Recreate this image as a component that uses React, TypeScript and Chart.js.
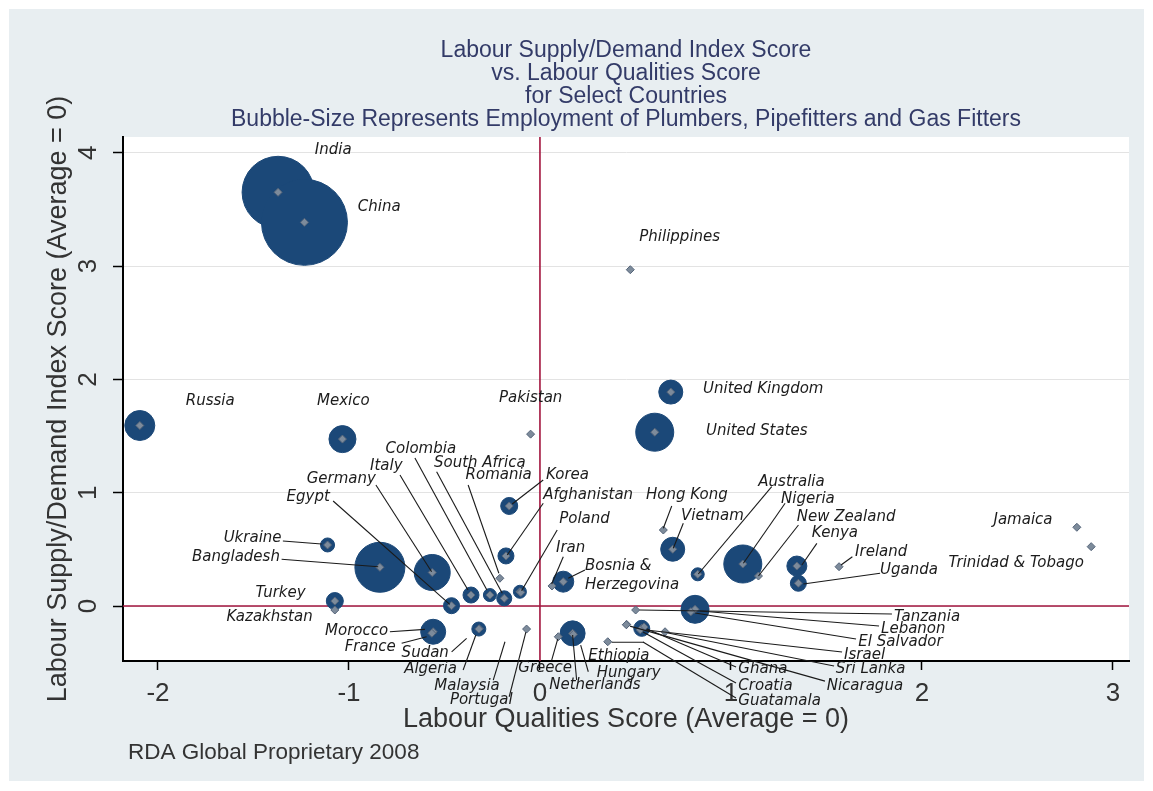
import React, { useEffect, useRef } from 'react';
import { Chart, registerables } from 'chart.js';

Chart.register(...registerables);

// ---------- data ----------
const countries = [
  'India', 'China', 'Russia', 'Mexico', 'Pakistan', 'Philippines', 'United Kingdom', 'United States',
  'Ukraine', 'Bangladesh', 'Germany', 'Egypt', 'Italy', 'Colombia', 'South Africa', 'Romania',
  'Korea', 'Afghanistan', 'Poland', 'Iran', 'Bosnia & Herzegovina', 'Hong Kong', 'Vietnam', 'Australia',
  'Nigeria', 'New Zealand', 'Kenya', 'Uganda', 'Ireland', 'Jamaica', 'Trinidad & Tobago', 'Turkey',
  'Kazakhstan', 'Morocco', 'France', 'Sudan', 'Algeria', 'Malaysia', 'Portugal', 'Greece',
  'Netherlands', 'Hungary', 'Ethiopia', 'Tanzania', 'Lebanon', 'El Salvador', 'Israel', 'Sri Lanka',
  'Nicaragua', 'Ghana', 'Croatia', 'Guatamala',
];

// Labour Qualities Score (x)
const qualityScores = [
  -1.371, -1.233, -2.095, -1.034, -0.049, 0.473, 0.685, 0.601,
  -1.112, -0.838, -0.564, -0.463, -0.361, -0.262, -0.187, -0.210,
  -0.161, -0.178, -0.105, 0.063, 0.122, 0.646, 0.695, 0.826,
  1.062, 1.144, 1.345, 1.353, 1.566, 2.811, 2.886, -1.074,
  -1.074, -0.559, -0.566, -0.318, -0.320, -0.100, -0.070, 0.096,
  0.171, 0.175, 0.355, 0.501, 0.812, 0.790, 0.533, 0.655,
  0.454, 0.545, 0.525, 0.452,
];

// Labour Supply/Demand Index Score (y)
const supplyDemandScores = [
  3.651, 3.386, 1.593, 1.473, 1.517, 2.968, 1.888, 1.534,
  0.539, 0.342, 0.296, 0.003, 0.097, 0.097, 0.068, 0.245,
  0.883, 0.442, 0.126, 0.177, 0.215, 0.671, 0.501, 0.280,
  0.371, 0.265, 0.353, 0.201, 0.347, 0.695, 0.524, 0.044,
  -0.035, -0.227, -0.240, -0.200, -0.203, 0.120, -0.203, -0.271,
  -0.241, -0.250, -0.315, -0.035, -0.029, -0.050, -0.197, -0.227,
  -0.162, -0.185, -0.210, -0.165,
];

// Bubble size (employment of plumbers, pipefitters and gas fitters), as bubble radius
const bubbleSizes = [
  36, 43, 15, 13.5, 0, 0, 12, 19,
  7, 25, 18, 8, 8, 6.5, 7.5, 0,
  8.5, 8, 6.5, 0, 10.5, 0, 12, 6.5,
  19, 0, 10, 8, 0, 0, 0, 8.5,
  0, 12.5, 0, 0, 7, 0, 0, 0,
  12.5, 0, 0, 0, 14, 0, 8, 0,
  0, 0, 0, 0,
];

const xTickValues = [-2, -1, 0, 1, 2, 3];
const yTickValues = [0, 1, 2, 3, 4];

const titleLines = [
  'Labour Supply/Demand Index Score',
  'vs. Labour Qualities Score',
  'for Select Countries',
  'Bubble-Size Represents Employment of Plumbers, Pipefitters and Gas Fitters',
];
const xAxisTitle = 'Labour Qualities Score (Average = 0)';
const yAxisTitle = 'Labour Supply/Demand Index Score (Average = 0)';
const footnote = 'RDA Global Proprietary 2008';

// ---------- label layout (pixel offsets from each marker) ----------
type Leader = [number, number, number, number] | null;
type Layout = [number, number, 'l' | 'r', Leader, boolean?];
const labelLayout: Layout[] = [
  [36.7, -41.7, 'l', null],
  [53.3, -15.7, 'l', null],
  [46, -24.7, 'l', null],
  [-25.4, -38.3, 'l', null],
  [-31.7, -36.3, 'l', null],
  [9, -33, 'l', null],
  [32.3, -3.3, 'l', null],
  [51.3, -1.3, 'l', null],
  [-46, -6.7, 'r', [-44.7, -4, -6, -1]],
  [-100, -10.6, 'r', [-98.3, -8, -1.7, -0.6]],
  [-56.3, -93.2, 'r', [-56.3, -87.5, -0.6, -0.8]],
  [-121.7, -108.4, 'r', [-118.4, -104.7, -1.7, -1.4]],
  [-101, -129.3, 'l', [-71, -120, -3, -5]],
  [-104.3, -145.7, 'l', [-75, -137, -3, -5]],
  [-70.3, -135.6, 'l', [-67.6, -126.6, -2, -5]],
  [-34.3, -103.3, 'l', [-31.7, -93.3, -1, -5]],
  [36.7, -31, 'l', [34, -26, 3, -2]],
  [37.3, -61, 'l', [37.3, -52.7, 1.3, -1]],
  [39.3, -72.4, 'l', [37.3, -61.7, 1.7, -1]],
  [4, -38.3, 'l', [11.3, -29.3, -0.3, -2]],
  [21.7, -16, 'l', [21.7, -11.7, 5, -3.4], true],
  [-17.3, -35, 'l', [8.4, -24, 0, -1.7]],
  [8.3, -33.6, 'l', [10.6, -26, 0.6, -1]],
  [60.6, -92.6, 'l', [74, -87.6, 0.6, -0.3]],
  [38.3, -65, 'l', [42.3, -60.7, 0.6, -0.7]],
  [38.4, -59.3, 'l', [40, -51, 0, 0]],
  [15, -32.7, 'l', [20, -22.7, 5, -1]],
  [81.7, -13.3, 'l', [81.7, -10, 5, 0.7]],
  [16, -14.4, 'l', [13.3, -10, 2, -1.7]],
  [-83.4, -7.3, 'l', null],
  [-142.7, 16.6, 'l', null],
  [-79.3, -7.7, 'l', null],
  [-108.3, 6.7, 'l', null],
  [-45, -1, 'r', [-43.3, 0, -8.3, -2.4]],
  [-36.2, 13.5, 'r', [-30.2, 10.1, -5.2, 3.5]],
  [-77.6, 24.1, 'l', [-27.6, 23.1, -12.6, 9.7]],
  [-74.7, 40.3, 'l', [-15.7, 41, -3, 6]],
  [-86.6, 93.3, 'l', [-27.6, 87.6, -15.9, 49.3]],
  [-76.7, 71, 'l', [-17.4, 67.7, -0.7, 3]],
  [-40, 31.6, 'l', [-6.6, 23.3, -0.6, 2.3]],
  [-23.4, 51.7, 'l', [4, 46.7, 0, 1.7]],
  [23.3, 39, 'l', [14.9, 37.4, 7.3, 10.7]],
  [-19.4, 14.3, 'l', [4, 0.5, 36, 0.5]],
  [258.3, 6.7, 'l', [256.3, 4, 4, 0]],
  [186, 19.7, 'l', [184, 16.7, 5, 1.7]],
  [167.5, 30, 'l', [165.2, 27.3, 4.2, 1.3]],
  [202.3, 26.7, 'l', [200.3, 23.7, 4.3, 1.7]],
  [170.7, 37.6, 'l', [169, 34.3, 3, 1.3]],
  [200, 61.4, 'l', [198.3, 56.7, 3.3, 1.7]],
  [94.3, 42.4, 'l', [92, 40.1, 3, 2.1]],
  [98.1, 55.9, 'l', [95.8, 53.2, 2.8, 2.2]],
  [112, 76, 'l', [109.7, 73.3, 16.7, 17.3]],
];

const SANS = "'Liberation Sans', Arial, sans-serif";
const LABEL_FONT = "italic 15px 'DejaVu Sans', Verdana, sans-serif";

const backgroundPlugin = {
  id: 'stataBackground',
  beforeDraw(chart: any) {
    const { ctx, chartArea: a, width, height } = chart;
    ctx.save();
    ctx.fillStyle = '#ffffff';
    ctx.fillRect(0, 0, width, height);
    ctx.fillStyle = '#e8eef1';
    ctx.fillRect(9, 9, width - 18, height - 19);
    ctx.fillStyle = '#ffffff';
    ctx.fillRect(a.left, a.top, a.right - a.left, a.bottom - a.top);
    ctx.restore();
  },
};

const refLinesPlugin = {
  id: 'refLines',
  beforeDatasetsDraw(chart: any) {
    const { ctx, chartArea: a, scales } = chart;
    const x0 = scales.x.getPixelForValue(0);
    const y0 = scales.y.getPixelForValue(0);
    ctx.save();
    ctx.strokeStyle = '#a3163f';
    ctx.lineWidth = 1.6;
    ctx.beginPath();
    ctx.moveTo(x0, a.top);
    ctx.lineTo(x0, a.bottom);
    ctx.moveTo(a.left, y0);
    ctx.lineTo(a.right, y0);
    ctx.stroke();
    ctx.restore();
  },
};

const labelsPlugin = {
  id: 'countryLabels',
  afterDatasetsDraw(chart: any) {
    const { ctx, scales } = chart;
    ctx.save();
    ctx.strokeStyle = '#1a1a1a';
    ctx.lineWidth = 1.1;
    countries.forEach((name, i) => {
      const lay = labelLayout[i];
      const px = scales.x.getPixelForValue(qualityScores[i]);
      const py = scales.y.getPixelForValue(supplyDemandScores[i]);
      const leader = lay[3];
      if (leader) {
        ctx.beginPath();
        ctx.moveTo(px + leader[0], py + leader[1]);
        ctx.lineTo(px + leader[2], py + leader[3]);
        ctx.stroke();
      }
    });
    ctx.font = LABEL_FONT;
    ctx.fillStyle = '#1c1c1c';
    ctx.textBaseline = 'middle';
    countries.forEach((name, i) => {
      const lay = labelLayout[i];
      const px = scales.x.getPixelForValue(qualityScores[i]);
      const py = scales.y.getPixelForValue(supplyDemandScores[i]);
      ctx.textAlign = lay[2] === 'l' ? 'left' : 'right';
      const lines = lay[4] ? name.replace(' & ', ' &\n').split('\n') : [name];
      lines.forEach((t, k) => {
        ctx.fillText(t, px + lay[0], py + lay[1] + k * 19.3);
      });
    });
    ctx.restore();
  },
};

const footnotePlugin = {
  id: 'footnote',
  afterDraw(chart: any) {
    const { ctx } = chart;
    ctx.save();
    ctx.font = `22.5px ${SANS}`;
    ctx.fillStyle = '#333333';
    ctx.textAlign = 'left';
    ctx.textBaseline = 'middle';
    ctx.fillText(footnote, 128, 753);
    ctx.restore();
  },
};

export default function App() {
  const canvasRef = useRef<HTMLCanvasElement | null>(null);

  useEffect(() => {
    if (!canvasRef.current) return;
    Chart.defaults.font.family = SANS;

    const centers = countries.map((_, i) => ({ x: qualityScores[i], y: supplyDemandScores[i] }));
    const bubbles = countries.map((_, i) => ({ x: qualityScores[i], y: supplyDemandScores[i], r: bubbleSizes[i] }));

    const chart = new Chart(canvasRef.current, {
      type: 'bubble',
      data: {
        datasets: [
          {
            type: 'scatter',
            label: 'centers',
            order: 0,
            data: centers,
            pointStyle: 'rectRot',
            pointRadius: 4,
            backgroundColor: '#7d8b9b',
            borderColor: '#55657a',
            borderWidth: 1,
          } as any,
          {
            type: 'bubble',
            label: 'employment',
            order: 1,
            data: bubbles,
            backgroundColor: '#1b4878',
            borderColor: '#1b4878',
            borderWidth: 1,
          } as any,
        ],
      },
      options: {
        responsive: false,
        maintainAspectRatio: false,
        animation: false,
        devicePixelRatio: 1,
        events: [],
        layout: { autoPadding: false, padding: { left: 0, right: 24, top: 0, bottom: 0 } },
        plugins: {
          legend: { display: false },
          tooltip: { enabled: false },
          title: {
            display: true,
            text: titleLines,
            fullSize: false,
            color: '#333b68',
            font: { family: SANS, size: 23, weight: 'normal', lineHeight: 1.0 },
            padding: { top: 39.5, bottom: 5.5 },
          },
        },
        scales: {
          x: {
            type: 'linear',
            position: 'bottom',
            min: -2.183,
            max: 3.084,
            afterFit: (s: any) => {
              s.height = 130;
              s.paddingLeft = 0;
              s.paddingRight = 0;
            },
            afterBuildTicks: (s: any) => { s.ticks = xTickValues.map((v) => ({ value: v })); },
            grid: { drawOnChartArea: false, color: '#000', tickColor: '#000', tickLength: 9, tickWidth: 1.5 },
            border: { display: true, color: '#000', width: 2 },
            ticks: { font: { family: SANS, size: 26 }, color: '#333', padding: 8, minRotation: 0, maxRotation: 0 },
            title: {
              display: true,
              text: xAxisTitle,
              color: '#333',
              font: { family: SANS, size: 27 },
              padding: { top: 0, bottom: 55 },
            },
          },
          y: {
            type: 'linear',
            position: 'left',
            min: -0.485,
            max: 4.139,
            afterFit: (s: any) => {
              s.width = 123;
              s.paddingTop = 0;
              s.paddingBottom = 0;
            },
            afterBuildTicks: (s: any) => { s.ticks = yTickValues.map((v) => ({ value: v })); },
            grid: { color: '#e3e3e3', lineWidth: 1, tickColor: '#000', tickLength: 10, tickWidth: 1.5 },
            border: { display: true, color: '#000', width: 2 },
            ticks: {
              font: { family: SANS, size: 26 },
              color: '#333',
              padding: 17,
              minRotation: 90,
              maxRotation: 90,
              crossAlign: 'center',
            },
            title: {
              display: true,
              text: yAxisTitle,
              color: '#333',
              font: { family: SANS, size: 27 },
              padding: { top: 42, bottom: 0 },
            },
          },
        },
      } as any,
      plugins: [backgroundPlugin, refLinesPlugin, labelsPlugin, footnotePlugin],
    });

    return () => chart.destroy();
  }, []);

  return (
    <div style={{ position: 'fixed', left: 0, top: 0, width: 1153, height: 791 }}>
      <canvas ref={canvasRef} width={1153} height={791} style={{ display: 'block' }} />
    </div>
  );
}
